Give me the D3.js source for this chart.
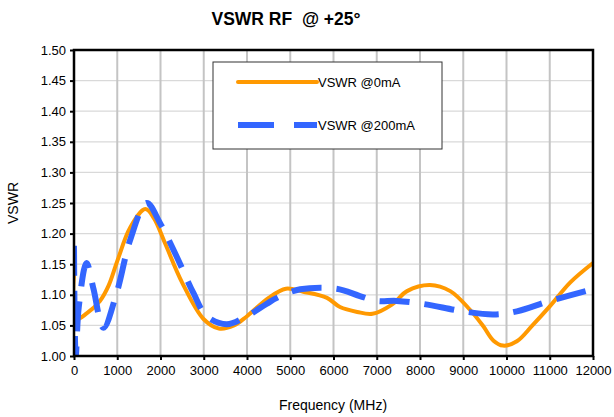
<!DOCTYPE html>
<html>
<head>
<meta charset="utf-8">
<script src="https://cdn.jsdelivr.net/npm/d3@7"></script>
<style>
  body { margin: 0; background: #fff; }
  text { font-family: "Liberation Sans", Arial, sans-serif; }
</style>
</head>
<body>
<div id="chart"></div>
<script>
// Data (frequency in MHz, VSWR)
var freq0 = [0, 40, 300, 600, 800, 1000, 1300, 1650, 1850, 2100, 2500, 3000, 3350, 3700, 4000, 4500, 4900, 5300, 5850, 6150, 6550, 6900, 7350, 7700, 8230, 8700, 9150, 9460, 9700, 9920, 10240, 10600, 11000, 11470, 12000];
var vswr0 = [1.135, 1.06, 1.07, 1.09, 1.115, 1.155, 1.21, 1.24, 1.225, 1.185, 1.12, 1.06, 1.045, 1.05, 1.065, 1.095, 1.11, 1.105, 1.095, 1.08, 1.072, 1.069, 1.084, 1.106, 1.116, 1.106, 1.076, 1.049, 1.025, 1.017, 1.024, 1.05, 1.081, 1.12, 1.152];

var freq200 = [0, 40, 110, 290, 450, 680, 990, 1300, 1680, 1990, 2370, 2760, 3070, 3530, 3990, 4450, 4690, 5230, 6070, 6610, 7000, 7460, 8080, 9000, 9700, 10240, 11000, 12000];
var vswr200 = [1.18, 1.00, 1.08, 1.152, 1.11, 1.046, 1.104, 1.19, 1.25, 1.217, 1.163, 1.103, 1.065, 1.052, 1.065, 1.085, 1.095, 1.109, 1.11, 1.098, 1.09, 1.09, 1.085, 1.073, 1.068, 1.073, 1.09, 1.109];

var xTicks = d3.range(0, 12001, 1000);
var yTicks = d3.range(1.00, 1.501, 0.05);

var svgWidth = 614;
var svgHeight = 417;
var margin = { top: 50, right: 20, bottom: 61, left: 74 };
var chartWidth = 593 - margin.left;
var chartHeight = 356 - margin.top;

var svg = d3.select("#chart").append("svg")
  .attr("width", svgWidth)
  .attr("height", svgHeight);

var chartGroup = svg.append("g")
  .attr("transform", `translate(${margin.left}, ${margin.top})`);

var x = d3.scaleLinear().domain([0, 12000]).range([0, chartWidth]);
var y = d3.scaleLinear().domain([1.0, 1.5]).range([chartHeight, 0]);

// grid lines
chartGroup.selectAll(".hgrid")
  .data(yTicks)
  .enter().append("line")
  .attr("x1", 0).attr("x2", chartWidth)
  .attr("y1", d => y(d)).attr("y2", d => y(d))
  .attr("stroke", "#d9d9d9").attr("stroke-width", 1.2);

chartGroup.selectAll(".vgrid")
  .data(xTicks)
  .enter().append("line")
  .attr("x1", d => x(d)).attr("x2", d => x(d))
  .attr("y1", 0).attr("y2", chartHeight)
  .attr("stroke", "#c4c4c4").attr("stroke-width", 2);

// clip so the smoothed curves stay inside the frame
svg.append("defs").append("clipPath").attr("id", "plotclip")
  .append("rect").attr("width", chartWidth).attr("height", chartHeight);

var line = d3.line()
  .x(d => x(d[0]))
  .y(d => y(d[1]))
  .curve(d3.curveCatmullRom.alpha(0.5));

var curves = chartGroup.append("g").attr("clip-path", "url(#plotclip)");

curves.append("path")
  .datum(d3.zip(freq0, vswr0))
  .attr("d", line)
  .attr("fill", "none")
  .attr("stroke", "#ff9900")
  .attr("stroke-width", 4)
  .attr("stroke-linejoin", "round");

curves.append("path")
  .datum(d3.zip(freq200, vswr200))
  .attr("d", line)
  .attr("fill", "none")
  .attr("stroke", "#3366ff")
  .attr("stroke-width", 6)
  .attr("stroke-dasharray", "30,15");

// axes
var bottomAxis = d3.axisBottom(x).tickValues(xTicks).tickSize(4).tickPadding(6).tickFormat(d3.format("d"));
var leftAxis = d3.axisLeft(y).tickValues(yTicks).tickSize(4).tickPadding(4).tickFormat(d3.format(".2f"));

var gx = chartGroup.append("g")
  .attr("transform", `translate(0, ${chartHeight})`)
  .call(bottomAxis);
var gy = chartGroup.append("g").call(leftAxis);

[gx, gy].forEach(function(g) {
  g.select(".domain").remove();
  g.selectAll(".tick line").attr("stroke", "#000").attr("stroke-width", 2);
  g.selectAll("text").attr("font-size", 13).attr("fill", "#000")
    .style("font-family", "'Liberation Sans', Arial, sans-serif");
});

// frame
chartGroup.append("rect")
  .attr("width", chartWidth).attr("height", chartHeight)
  .attr("fill", "none").attr("stroke", "#000").attr("stroke-width", 2.5);

// title and axis labels
svg.append("text")
  .attr("x", 286).attr("y", 25)
  .attr("text-anchor", "middle")
  .attr("font-size", 17.5).attr("font-weight", "bold")
  .style("white-space", "pre")
  .text("VSWR RF  @ +25°");

svg.append("text")
  .attr("x", 333).attr("y", 410)
  .attr("text-anchor", "middle")
  .attr("font-size", 14)
  .text("Frequency (MHz)");

svg.append("text")
  .attr("transform", "translate(18, 203) rotate(-90)")
  .attr("text-anchor", "middle")
  .attr("font-size", 14)
  .text("VSWR");

// legend
var legend = svg.append("g");
legend.append("rect")
  .attr("x", 213).attr("y", 62).attr("width", 229).attr("height", 87)
  .attr("fill", "#fff").attr("stroke", "#333").attr("stroke-width", 1);

var legendItems = [
  { name: "VSWR @0mA", color: "#ff9900", width: 4, dash: null, cap: "round", y: 82 },
  { name: "VSWR @200mA", color: "#3366ff", width: 6, dash: "36,20", cap: "butt", y: 125 }
];

legendItems.forEach(function(item) {
  legend.append("line")
    .attr("x1", 238).attr("x2", 317)
    .attr("y1", item.y).attr("y2", item.y)
    .attr("stroke", item.color).attr("stroke-width", item.width)
    .attr("stroke-linecap", item.cap)
    .attr("stroke-dasharray", item.dash);
  legend.append("text")
    .attr("x", 318).attr("y", item.y + 5)
    .attr("font-size", 13)
    .text(item.name);
});
</script>
</body>
</html>
